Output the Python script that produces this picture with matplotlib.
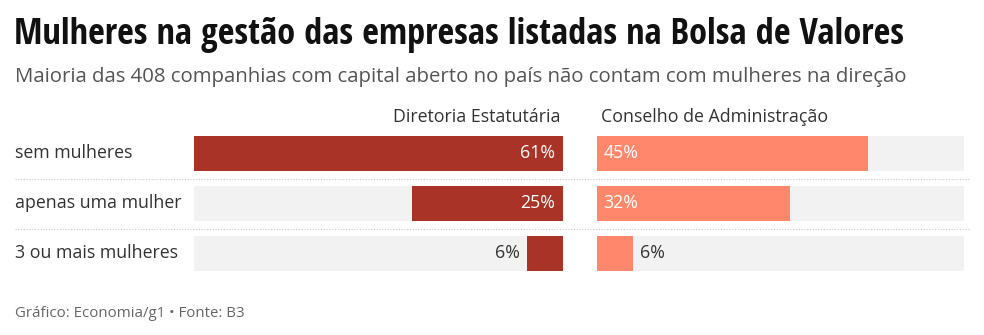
import matplotlib
matplotlib.use("Agg")
from matplotlib import pyplot as plt
from matplotlib import font_manager as fm
from matplotlib.lines import Line2D
import matplotlib.transforms as mtransforms

categories = ["sem mulheres", "apenas uma mulher", "3 ou mais mulheres"]
diretoria = [61, 25, 6]
conselho = [45, 32, 6]
headers = ["Diretoria Estatutária", "Conselho de Administração"]

title = "Mulheres na gestão das empresas listadas na Bolsa de Valores"
subtitle = "Maioria das 408 companhias com capital aberto no país não contam com mulheres na direção"
footer = "Gráfico: Economia/g1 • Fonte: B3"

DARK = "#a93326"
SALMON = "#ff886c"
BG = "#f2f2f2"
TEXT = "#333333"

W, H = 984, 335
plt.rcParams["font.family"] = ["Open Sans", "DejaVu Sans"]


def fx(px):
    return px / W


def fy(py):
    return 1 - py / H


def title_font():
    # narrow bold face for the headline, whichever is installed
    wanted = [("Open Sans", "semi-condensed"), ("Open Sans", "condensed"),
              ("Open Sans Condensed", None), ("Roboto Condensed", None),
              ("Barlow Condensed", None)]
    for name, stretch in wanted:
        for f in fm.fontManager.ttflist:
            if f.name != name or f.style != "normal":
                continue
            if str(f.weight) not in ("700", "bold"):
                continue
            if stretch and str(f.stretch) != stretch:
                continue
            return fm.FontProperties(fname=f.fname)
    return fm.FontProperties(family="DejaVu Sans", weight="bold")


def main():
    fig = plt.figure(figsize=(W / 100, H / 100), dpi=100)
    vmax = max(diretoria + conselho)

    tp = title_font()
    tp.set_size(23)
    t = fig.text(fx(14), fy(44), title, fontproperties=tp, color="#111111", va="baseline")
    r = fig.canvas.get_renderer()
    wpx = t.get_window_extent(r).width
    tp.set_size(min(27, 23 * 890 / wpx))
    t.set_fontproperties(tp)

    fig.text(fx(15), fy(82), subtitle, fontsize=14.7, color="#555555", va="baseline")
    fig.text(fx(15), fy(317), footer, fontsize=10.8, color="#666666", va="baseline")

    top, bottom = 136, 271
    ax_l = fig.add_axes([fx(194), fy(bottom), fx(563 - 194), (bottom - top) / H])
    ax_r = fig.add_axes([fx(597), fy(bottom), fx(964 - 597), (bottom - top) / H])

    ys = list(range(len(categories)))
    for ax, vals, color, side in [(ax_l, diretoria, DARK, "left"), (ax_r, conselho, SALMON, "right")]:
        ax.barh(ys, [vmax] * len(ys), height=0.7, color=BG)
        ax.barh(ys, vals, height=0.7, color=color)
        ax.set_ylim(len(ys) - 0.65, -0.35)
        if side == "left":
            ax.set_xlim(vmax, 0)
        else:
            ax.set_xlim(0, vmax)
        ax.axis("off")
        for y, v in zip(ys, vals):
            inside = v > 10
            if side == "left":
                xx, ha = (0, "right") if inside else (v, "right")
                dx = -6 if inside else -5
            else:
                xx, ha = (0, "left") if inside else (v, "left")
                dx = 4.5 if inside else 5
            tr = mtransforms.offset_copy(ax.transData, fig=fig, x=dx, y=0, units="points")
            ax.text(xx, y, f"{v}%", ha=ha, va="center", fontsize=12.8,
                    color="white" if inside else TEXT, transform=tr)

    ax_l.text(1.0, 1.0, headers[0],
              transform=mtransforms.offset_copy(ax_l.transAxes, fig=fig, x=-1.5, y=7.5, units="points"),
              ha="right", va="bottom", fontsize=12.8, color=TEXT)
    ax_r.text(0.0, 1.0, headers[1],
              transform=mtransforms.offset_copy(ax_r.transAxes, fig=fig, x=3, y=7.5, units="points"),
              ha="left", va="bottom", fontsize=12.8, color=TEXT)

    lab_tr = mtransforms.blended_transform_factory(fig.transFigure, ax_l.transData)
    for y, c in zip(ys, categories):
        ax_l.text(fx(15), y, c, transform=lab_tr, ha="left", va="center", fontsize=12.8, color=TEXT)

    for py in [178.5, 228.5]:
        fig.add_artist(Line2D([fx(15), fx(970)], [fy(py), fy(py)], transform=fig.transFigure,
                              color="#c8c8c8", lw=0.8, ls=(0, (1, 1.5))))

    fig.savefig("out.png", dpi=100)


if __name__ == "__main__":
    main()
